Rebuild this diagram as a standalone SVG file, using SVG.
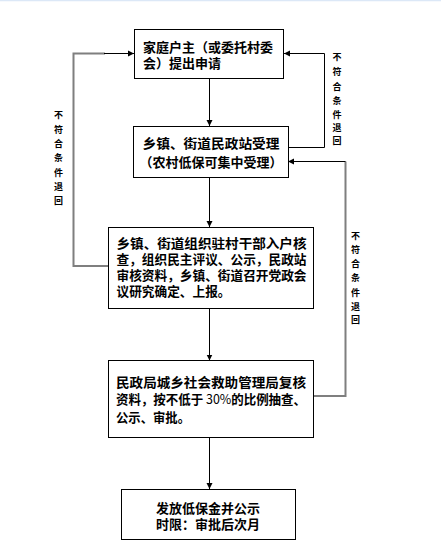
<svg xmlns="http://www.w3.org/2000/svg" width="441" height="558" viewBox="0 0 441 558">
<defs>
<style>
.box{fill:#fff;stroke:#000;stroke-width:1}
.t{font-family:"Noto Sans CJK SC","Liberation Sans",sans-serif;font-size:13px;font-weight:700;fill:#000}
.v{font-family:"Noto Sans CJK SC","Liberation Sans",sans-serif;font-size:9px;font-weight:700;fill:#000;text-anchor:middle}
.k{stroke:#000;stroke-width:1;fill:none}
.g{stroke:#7f7f7f;stroke-width:2;fill:none}
.c{text-anchor:middle}
</style>
<marker id="ah" markerWidth="7" markerHeight="7" refX="6" refY="3.5" orient="auto" markerUnits="userSpaceOnUse">
<path d="M0,0.5 L6,3.5 L0,6.5 Z" fill="#000"/>
</marker>
</defs>
<rect x="0" y="0" width="441" height="1.5" fill="#dce8f7"/>
<rect width="441" height="558" y="1.5" fill="#fff"/>
<g id="connectors">
<line class="k" x1="209.5" y1="78" x2="209.5" y2="126" marker-end="url(#ah)"/>
<line class="k" x1="209.5" y1="177" x2="209.5" y2="227" marker-end="url(#ah)"/>
<line class="k" x1="209.5" y1="308" x2="209.5" y2="360.5" marker-end="url(#ah)"/>
<line class="k" x1="209.5" y1="437" x2="209.5" y2="489" marker-end="url(#ah)"/>
<polyline class="g" points="108,266 73.5,266 73.5,53.5 105,53.5"/>
<line class="k" x1="104" y1="53.5" x2="134" y2="53.5" marker-end="url(#ah)"/>
<polyline class="k" points="288,147.5 324.5,147.5 324.5,53.5"/>
<line class="k" x1="324.5" y1="53.5" x2="284" y2="53.5" marker-end="url(#ah)"/>
<polyline class="g" points="313,396 345.5,396 345.5,161.5"/>
<line class="k" x1="345.5" y1="161.5" x2="288" y2="161.5" marker-end="url(#ah)"/>
</g>
<g id="n1">
<rect class="box" x="134.5" y="29.5" width="149" height="49"/>
<text class="t" x="143" y="51.5" textLength="130" lengthAdjust="spacingAndGlyphs">家庭户主（或委托村委</text>
<text class="t" x="143" y="67.5">会）提出申请</text>
</g>
<g id="n2">
<rect class="box" x="133.5" y="126.5" width="155" height="51"/>
<text class="t c" x="211" y="147.5" textLength="137" lengthAdjust="spacingAndGlyphs">乡镇、街道民政站受理</text>
<text class="t c" x="211" y="166.5" textLength="143" lengthAdjust="spacingAndGlyphs">（农村低保可集中受理）</text>
</g>
<g id="n3">
<rect class="box" x="108.5" y="227.5" width="205" height="81"/>
<text class="t" x="116.5" y="248" textLength="190" lengthAdjust="spacingAndGlyphs">乡镇、街道组织驻村干部入户核</text>
<text class="t" x="116.5" y="264" textLength="190" lengthAdjust="spacingAndGlyphs">查，组织民主评议、公示，民政站</text>
<text class="t" x="116.5" y="280" textLength="190" lengthAdjust="spacingAndGlyphs">审核资料，乡镇、街道召开党政会</text>
<text class="t" x="116.5" y="296" textLength="114" lengthAdjust="spacingAndGlyphs">议研究确定、上报。</text>
</g>
<g id="n4">
<rect class="box" x="108.5" y="360.5" width="205" height="77"/>
<text class="t" x="116" y="386.5" textLength="190" lengthAdjust="spacingAndGlyphs">民政局城乡社会救助管理局复核</text>
<text class="t" x="116" y="404" textLength="190" lengthAdjust="spacingAndGlyphs">资料，按不低于 <tspan font-weight="400">30%</tspan>的比例抽查、</text>
<text class="t" x="116" y="421.5" textLength="74" lengthAdjust="spacingAndGlyphs">公示、审批。</text>
</g>
<g id="n5">
<rect class="box" x="121.5" y="489.5" width="174" height="50"/>
<text class="t c" x="208" y="512.5" textLength="104" lengthAdjust="spacingAndGlyphs">发放低保金并公示</text>
<text class="t c" x="208" y="529" textLength="104" lengthAdjust="spacingAndGlyphs">时限：审批后次月</text>
</g>
<g id="label-left">
<text class="v" x="58.5" y="117.5">不</text>
<text class="v" x="58.5" y="132.5">符</text>
<text class="v" x="58.5" y="147">合</text>
<text class="v" x="58.5" y="161">条</text>
<text class="v" x="58.5" y="175.5">件</text>
<text class="v" x="58.5" y="189.5">退</text>
<text class="v" x="58.5" y="203.5">回</text>
</g>
<g id="label-right-top">
<text class="v" x="337" y="60">不</text>
<text class="v" x="337" y="75">符</text>
<text class="v" x="337" y="89.5">合</text>
<text class="v" x="337" y="103.5">条</text>
<text class="v" x="337" y="117.5">件</text>
<text class="v" x="337" y="131">退</text>
<text class="v" x="337" y="143.5">回</text>
</g>
<g id="label-right-bottom">
<text class="v" x="355.5" y="238.5">不</text>
<text class="v" x="355.5" y="253">符</text>
<text class="v" x="355.5" y="267">合</text>
<text class="v" x="355.5" y="281">条</text>
<text class="v" x="355.5" y="295.5">件</text>
<text class="v" x="355.5" y="309.5">退</text>
<text class="v" x="355.5" y="323">回</text>
</g>
</svg>
